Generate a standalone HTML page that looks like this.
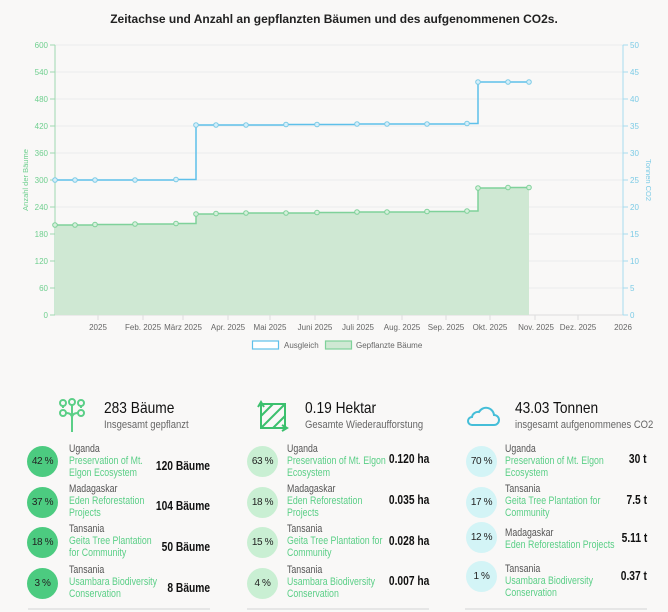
<!DOCTYPE html>
<html><head><meta charset="utf-8"><style>
body{margin:0;width:668px;height:612px;background:#f9f8f7;font-family:"Liberation Sans",sans-serif;position:relative;overflow:hidden}
.a{position:absolute;white-space:nowrap}
.t{font-size:16px;color:#111;transform:scaleX(.86);transform-origin:left top}
.s{font-size:11px;color:#666;transform:scaleX(.86);transform-origin:left top}
.c{position:absolute;width:31px;height:31px;border-radius:50%;font-size:10px;color:#222;text-align:center;line-height:31px;letter-spacing:-0.4px}
.lab{position:absolute;font-size:11px;line-height:12.2px;color:#555;white-space:nowrap;transform:scaleX(.8);transform-origin:left top}
.lab span{color:#5bcf87}
.v{position:absolute;font-size:12.5px;font-weight:bold;color:#111;text-align:right;white-space:nowrap;transform:scaleX(.82);transform-origin:right top}
.hr{position:absolute;height:2px;background:#e6e6e6;top:608px}
</style></head><body>
<div class="a" style="left:0;width:668px;top:12px;text-align:center;font-size:12px;font-weight:bold;color:#222">Zeitachse und Anzahl an gepflanzten Bäumen und des aufgenommenen CO2s.</div>
<svg class="a" style="left:0;top:0" width="668" height="360" font-family="Liberation Sans, sans-serif">
<g stroke="#ececec" stroke-width="1">
<line x1="55" x2="623" y1="45" y2="45"/><line x1="55" x2="623" y1="72" y2="72"/><line x1="55" x2="623" y1="99" y2="99"/><line x1="55" x2="623" y1="126" y2="126"/><line x1="55" x2="623" y1="153" y2="153"/><line x1="55" x2="623" y1="180" y2="180"/><line x1="55" x2="623" y1="207" y2="207"/><line x1="55" x2="623" y1="234" y2="234"/><line x1="55" x2="623" y1="261" y2="261"/><line x1="55" x2="623" y1="288" y2="288"/>
</g>
<line x1="55" x2="623" y1="315" y2="315" stroke="#ddd"/>
<g stroke="#ddd"><line x1="98" x2="98" y1="315" y2="320"/><line x1="143" x2="143" y1="315" y2="320"/><line x1="183" x2="183" y1="315" y2="320"/><line x1="228" x2="228" y1="315" y2="320"/><line x1="270" x2="270" y1="315" y2="320"/><line x1="315" x2="315" y1="315" y2="320"/><line x1="358" x2="358" y1="315" y2="320"/><line x1="402" x2="402" y1="315" y2="320"/><line x1="446" x2="446" y1="315" y2="320"/><line x1="490" x2="490" y1="315" y2="320"/><line x1="535" x2="535" y1="315" y2="320"/><line x1="578" x2="578" y1="315" y2="320"/></g>
<line x1="55" x2="55" y1="45" y2="315" stroke="#9ed9b0"/>
<line x1="623" x2="623" y1="45" y2="315" stroke="#a6dcef"/>
<g font-size="8" fill="#6fcf8f" text-anchor="end">
<text x="48" y="48">600</text><text x="48" y="75">540</text><text x="48" y="102">480</text><text x="48" y="129">420</text><text x="48" y="156">360</text><text x="48" y="183">300</text><text x="48" y="210">240</text><text x="48" y="237">180</text><text x="48" y="264">120</text><text x="48" y="291">60</text><text x="48" y="318">0</text>
</g>
<g stroke="#9ed9b0"><line x1="50" x2="55" y1="45" y2="45"/><line x1="50" x2="55" y1="72" y2="72"/><line x1="50" x2="55" y1="99" y2="99"/><line x1="50" x2="55" y1="126" y2="126"/><line x1="50" x2="55" y1="153" y2="153"/><line x1="50" x2="55" y1="180" y2="180"/><line x1="50" x2="55" y1="207" y2="207"/><line x1="50" x2="55" y1="234" y2="234"/><line x1="50" x2="55" y1="261" y2="261"/><line x1="50" x2="55" y1="288" y2="288"/><line x1="50" x2="55" y1="315" y2="315"/></g>
<g stroke="#a6dcef"><line x1="623" x2="628" y1="45" y2="45"/><line x1="623" x2="628" y1="72" y2="72"/><line x1="623" x2="628" y1="99" y2="99"/><line x1="623" x2="628" y1="126" y2="126"/><line x1="623" x2="628" y1="153" y2="153"/><line x1="623" x2="628" y1="180" y2="180"/><line x1="623" x2="628" y1="207" y2="207"/><line x1="623" x2="628" y1="234" y2="234"/><line x1="623" x2="628" y1="261" y2="261"/><line x1="623" x2="628" y1="288" y2="288"/><line x1="623" x2="628" y1="315" y2="315"/></g>
<g font-size="8" fill="#7ccbe6">
<text x="630" y="48">50</text><text x="630" y="75">45</text><text x="630" y="102">40</text><text x="630" y="129">35</text><text x="630" y="156">30</text><text x="630" y="183">25</text><text x="630" y="210">20</text><text x="630" y="237">15</text><text x="630" y="264">10</text><text x="630" y="291">5</text><text x="630" y="318">0</text>
</g>
<text transform="translate(28,180) rotate(-90)" font-size="7.5" fill="#6fcf8f" text-anchor="middle">Anzahl der Bäume</text>
<text transform="translate(646,180) rotate(90)" font-size="7.5" fill="#7ccbe6" text-anchor="middle">Tonnen CO2</text>
<g font-size="8" fill="#666" text-anchor="middle">
<text x="98" y="330">2025</text><text x="143" y="330">Feb. 2025</text><text x="183" y="330">März 2025</text><text x="228" y="330">Apr. 2025</text><text x="270" y="330">Mai 2025</text><text x="315" y="330">Juni 2025</text><text x="358" y="330">Juli 2025</text><text x="402" y="330">Aug. 2025</text><text x="446" y="330">Sep. 2025</text><text x="490" y="330">Okt. 2025</text><text x="536" y="330">Nov. 2025</text><text x="578" y="330">Dez. 2025</text><text x="623" y="330">2026</text>
</g>
<path d="M55 225 H75 V225 H95 V224.5 H135 V224 H176 V223.5 H196 V214 H216 V213.5 H246 V213 H286 V213 H317 V212.5 H357 V212 H387 V212 H427 V211.5 H467 V211 H478 V188 H508 V187.5 H529 V315 H55 Z" fill="#cfe8d3"/>
<path d="M55 225 H75 V225 H95 V224.5 H135 V224 H176 V223.5 H196 V214 H216 V213.5 H246 V213 H286 V213 H317 V212.5 H357 V212 H387 V212 H427 V211.5 H467 V211 H478 V188 H508 V187.5 H529" fill="none" stroke="#7fd19a" stroke-width="1.5"/>
<path d="M55 180 H75 H95 H135 H176 V179.5 H196 V125 H216 H246 H286 V124.5 H317 H357 V124 H387 H427 H467 V123.5 H478 V82 H508 H529" fill="none" stroke="#5ec0ea" stroke-width="1.5"/>
<g fill="#d6f0dc" stroke="#7fd19a" stroke-width="1">
<circle cx="55" cy="225" r="2.3"/><circle cx="75" cy="225" r="2.3"/><circle cx="95" cy="224.5" r="2.3"/><circle cx="135" cy="224" r="2.3"/><circle cx="176" cy="223.5" r="2.3"/><circle cx="196" cy="214" r="2.3"/><circle cx="216" cy="213.5" r="2.3"/><circle cx="246" cy="213" r="2.3"/><circle cx="286" cy="213" r="2.3"/><circle cx="317" cy="212.5" r="2.3"/><circle cx="357" cy="212" r="2.3"/><circle cx="387" cy="212" r="2.3"/><circle cx="427" cy="211.5" r="2.3"/><circle cx="467" cy="211" r="2.3"/><circle cx="478" cy="188" r="2.3"/><circle cx="508" cy="187.5" r="2.3"/><circle cx="529" cy="187.5" r="2.3"/>
</g>
<g fill="#d6effa" stroke="#7ccbe6" stroke-width="1">
<circle cx="55" cy="180" r="2.3"/><circle cx="75" cy="180" r="2.3"/><circle cx="95" cy="180" r="2.3"/><circle cx="135" cy="180" r="2.3"/><circle cx="176" cy="179.5" r="2.3"/><circle cx="196" cy="125" r="2.3"/><circle cx="216" cy="125" r="2.3"/><circle cx="246" cy="125" r="2.3"/><circle cx="286" cy="124.5" r="2.3"/><circle cx="317" cy="124.5" r="2.3"/><circle cx="357" cy="124" r="2.3"/><circle cx="387" cy="124" r="2.3"/><circle cx="427" cy="124" r="2.3"/><circle cx="467" cy="123.5" r="2.3"/><circle cx="478" cy="82" r="2.3"/><circle cx="508" cy="82" r="2.3"/><circle cx="529" cy="82" r="2.3"/>
</g>
<rect x="252.5" y="341" width="26" height="8" fill="#fff" stroke="#5ec0ea" stroke-width="1.2"/>
<text x="284" y="348" font-size="8" fill="#666">Ausgleich</text>
<rect x="325.5" y="341" width="26" height="8" fill="#cfe8d3" stroke="#7fd19a" stroke-width="1.2"/>
<text x="356" y="348" font-size="8" fill="#666">Gepflanzte Bäume</text>
</svg>

<svg class="a" style="left:58px;top:398px" width="28" height="36" fill="none" stroke="#5bcf87" stroke-width="2">
<circle cx="5" cy="5" r="3"/><circle cx="14" cy="4" r="3"/><circle cx="23" cy="5" r="3"/><circle cx="5" cy="15" r="3"/><circle cx="23" cy="15" r="3"/>
<path d="M14 7 V34 M5 8 V10 M23 8 V10 M8 15 Q14 15 14 20 M20 15 Q14 15 14 20"/>
</svg>
<svg class="a" style="left:257px;top:400px" width="32" height="32" fill="none" stroke="#3cc06e" stroke-width="2">
<rect x="4" y="4" width="24" height="24"/><path d="M4 16 L16 4 M4 28 L28 4 M16 28 L28 16"/><path d="M1 7 L4 2 L7 7 M25 25 L30 28 L25 31"/>
</svg>
<svg class="a" style="left:465px;top:404px" width="36" height="24" fill="none" stroke="#45bed8" stroke-width="2">
<path d="M7 21 H29 A5 5 0 0 0 29 11 A8 8 0 0 0 14 8 A6 6 0 0 0 7 13 A4 4 0 0 0 7 21 Z"/>
</svg>

<div class="a t" style="left:104px;top:400px">283 Bäume</div>
<div class="a s" style="left:104px;top:419px">Insgesamt gepflanzt</div>
<div class="a t" style="left:305px;top:400px">0.19 Hektar</div>
<div class="a s" style="left:305px;top:419px">Gesamte Wiederaufforstung</div>
<div class="a t" style="left:515px;top:400px">43.03 Tonnen</div>
<div class="a s" style="left:515px;top:419px">insgesamt aufgenommenes CO2</div>

<div class="c" style="left:27px;top:446px;background:#4ccb80">42 %</div>
<div class="c" style="left:27px;top:487px;background:#4ccb80">37 %</div>
<div class="c" style="left:27px;top:527px;background:#4ccb80">18 %</div>
<div class="c" style="left:27px;top:568px;background:#4ccb80">3 %</div>
<div class="lab" style="left:69px;top:443px">Uganda<br><span>Preservation of Mt.<br>Elgon Ecosystem</span></div>
<div class="lab" style="left:69px;top:483px">Madagaskar<br><span>Eden Reforestation<br>Projects</span></div>
<div class="lab" style="left:69px;top:523px">Tansania<br><span>Geita Tree Plantation<br>for Community</span></div>
<div class="lab" style="left:69px;top:564px">Tansania<br><span>Usambara Biodiversity<br>Conservation</span></div>
<div class="v" style="right:458px;top:459px">120 Bäume</div>
<div class="v" style="right:458px;top:499px">104 Bäume</div>
<div class="v" style="right:458px;top:540px">50 Bäume</div>
<div class="v" style="right:458px;top:581px">8 Bäume</div>
<div class="hr" style="left:28px;width:182px"></div>

<div class="c" style="left:247px;top:446px;background:#c9efd3">63 %</div>
<div class="c" style="left:247px;top:487px;background:#c9efd3">18 %</div>
<div class="c" style="left:247px;top:527px;background:#c9efd3">15 %</div>
<div class="c" style="left:247px;top:568px;background:#c9efd3">4 %</div>
<div class="lab" style="left:287px;top:443px">Uganda<br><span>Preservation of Mt. Elgon<br>Ecosystem</span></div>
<div class="lab" style="left:287px;top:483px">Madagaskar<br><span>Eden Reforestation<br>Projects</span></div>
<div class="lab" style="left:287px;top:523px">Tansania<br><span>Geita Tree Plantation for<br>Community</span></div>
<div class="lab" style="left:287px;top:564px">Tansania<br><span>Usambara Biodiversity<br>Conservation</span></div>
<div class="v" style="right:239px;top:452px">0.120 ha</div>
<div class="v" style="right:239px;top:493px">0.035 ha</div>
<div class="v" style="right:239px;top:534px">0.028 ha</div>
<div class="v" style="right:239px;top:574px">0.007 ha</div>
<div class="hr" style="left:247px;width:182px"></div>

<div class="c" style="left:466px;top:446px;background:#d3f4f6">70 %</div>
<div class="c" style="left:466px;top:487px;background:#d3f4f6">17 %</div>
<div class="c" style="left:466px;top:522px;background:#d3f4f6">12 %</div>
<div class="c" style="left:466px;top:561px;background:#d3f4f6">1 %</div>
<div class="lab" style="left:505px;top:443px">Uganda<br><span>Preservation of Mt. Elgon<br>Ecosystem</span></div>
<div class="lab" style="left:505px;top:483px">Tansania<br><span>Geita Tree Plantation for<br>Community</span></div>
<div class="lab" style="left:505px;top:527px">Madagaskar<br><span>Eden Reforestation Projects</span></div>
<div class="lab" style="left:505px;top:563px">Tansania<br><span>Usambara Biodiversity<br>Conservation</span></div>
<div class="v" style="right:21px;top:452px">30 t</div>
<div class="v" style="right:21px;top:493px">7.5 t</div>
<div class="v" style="right:21px;top:531px">5.11 t</div>
<div class="v" style="right:21px;top:569px">0.37 t</div>
<div class="hr" style="left:465px;width:182px"></div>
</body></html>
